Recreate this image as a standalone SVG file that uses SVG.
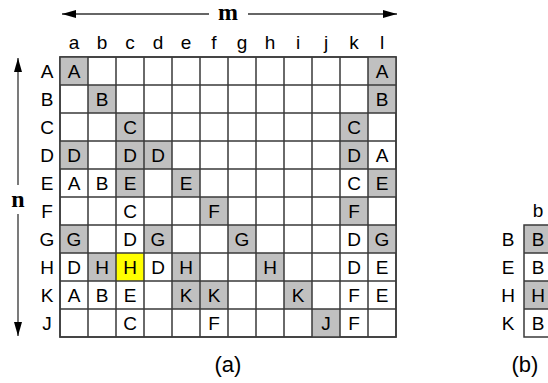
<svg xmlns="http://www.w3.org/2000/svg" width="548" height="383" viewBox="0 0 548 383">
<style>
.t{font-family:"Liberation Sans",Arial,sans-serif;font-size:19px;fill:#000;text-anchor:middle}
.c{stroke:#3a3a3a;stroke-width:1.5;fill:#fff}
.g{fill:#c0c0c0}
.y{fill:#ffff00}
.ax{stroke:#333;stroke-width:1.3;fill:none}
.b{font-family:"Liberation Serif","Times New Roman",serif;font-size:24px;font-weight:bold;text-anchor:middle}
.cap{font-family:"Liberation Sans",Arial,sans-serif;font-size:22px;fill:#000;text-anchor:middle}
</style>
<defs>
<marker id="ah" viewBox="0 0 14 8" refX="14" refY="4" markerWidth="14" markerHeight="8" markerUnits="userSpaceOnUse" orient="auto-start-reverse">
<path d="M0,0 L14,4 L0,8 Z" fill="#000"/>
</marker>
</defs>
<g id="axes">
<line class="ax" x1="62" y1="14" x2="209" y2="14" marker-start="url(#ah)"/>
<line class="ax" x1="248" y1="14" x2="397" y2="14" marker-end="url(#ah)"/>
<text class="b" x="228" y="20">m</text>
<line class="ax" x1="18" y1="58" x2="18" y2="185" marker-start="url(#ah)"/>
<line class="ax" x1="18" y1="214" x2="18" y2="336" marker-end="url(#ah)"/>
<text class="b" x="18" y="207">n</text>
</g>
<g id="grid-a">
<g class="c">
<rect x="60" y="57" width="336" height="280"/>
</g>
<g id="fills">
<rect class="g" x="60" y="57" width="28" height="28"/>
<rect class="g" x="368" y="57" width="28" height="28"/>
<rect class="g" x="88" y="85" width="28" height="28"/>
<rect class="g" x="368" y="85" width="28" height="28"/>
<rect class="g" x="116" y="113" width="28" height="28"/>
<rect class="g" x="340" y="113" width="28" height="28"/>
<rect class="g" x="60" y="141" width="28" height="28"/>
<rect class="g" x="116" y="141" width="28" height="28"/>
<rect class="g" x="144" y="141" width="28" height="28"/>
<rect class="g" x="340" y="141" width="28" height="28"/>
<rect class="g" x="116" y="169" width="28" height="28"/>
<rect class="g" x="172" y="169" width="28" height="28"/>
<rect class="g" x="368" y="169" width="28" height="28"/>
<rect class="g" x="200" y="197" width="28" height="28"/>
<rect class="g" x="340" y="197" width="28" height="28"/>
<rect class="g" x="60" y="225" width="28" height="28"/>
<rect class="g" x="144" y="225" width="28" height="28"/>
<rect class="g" x="228" y="225" width="28" height="28"/>
<rect class="g" x="368" y="225" width="28" height="28"/>
<rect class="g" x="88" y="253" width="28" height="28"/>
<rect class="y" x="116" y="253" width="28" height="28"/>
<rect class="g" x="172" y="253" width="28" height="28"/>
<rect class="g" x="256" y="253" width="28" height="28"/>
<rect class="g" x="172" y="281" width="28" height="28"/>
<rect class="g" x="200" y="281" width="28" height="28"/>
<rect class="g" x="284" y="281" width="28" height="28"/>
<rect class="g" x="312" y="309" width="28" height="28"/>
</g>
<path stroke="#3a3a3a" stroke-width="1.5" fill="none" d="M60,57H396V337H60Z M88,57V337 M116,57V337 M144,57V337 M172,57V337 M200,57V337 M228,57V337 M256,57V337 M284,57V337 M312,57V337 M340,57V337 M368,57V337 M60,85H396 M60,113H396 M60,141H396 M60,169H396 M60,197H396 M60,225H396 M60,253H396 M60,281H396 M60,309H396"/>
<g class="t">
<text x="74" y="49">a</text><text x="102" y="49">b</text><text x="130" y="49">c</text><text x="158" y="49">d</text><text x="186" y="49">e</text><text x="214" y="49">f</text><text x="242" y="49">g</text><text x="270" y="49">h</text><text x="298" y="49">i</text><text x="326" y="49">j</text><text x="354" y="49">k</text><text x="382" y="49">l</text>
<text x="47" y="78">A</text><text x="47" y="106">B</text><text x="47" y="134">C</text><text x="47" y="162">D</text><text x="47" y="190">E</text><text x="47" y="218">F</text><text x="47" y="246">G</text><text x="47" y="274">H</text><text x="47" y="302">K</text><text x="47" y="330">J</text>
<text x="74" y="78">A</text><text x="382" y="78">A</text>
<text x="102" y="106">B</text><text x="382" y="106">B</text>
<text x="130" y="134">C</text><text x="354" y="134">C</text>
<text x="74" y="162">D</text><text x="130" y="162">D</text><text x="158" y="162">D</text><text x="354" y="162">D</text><text x="382" y="162">A</text>
<text x="74" y="190">A</text><text x="102" y="190">B</text><text x="130" y="190">E</text><text x="186" y="190">E</text><text x="354" y="190">C</text><text x="382" y="190">E</text>
<text x="130" y="218">C</text><text x="214" y="218">F</text><text x="354" y="218">F</text>
<text x="74" y="246">G</text><text x="130" y="246">D</text><text x="158" y="246">G</text><text x="242" y="246">G</text><text x="354" y="246">D</text><text x="382" y="246">G</text>
<text x="74" y="274">D</text><text x="102" y="274">H</text><text x="130" y="274">H</text><text x="158" y="274">D</text><text x="186" y="274">H</text><text x="270" y="274">H</text><text x="354" y="274">D</text><text x="382" y="274">E</text>
<text x="74" y="302">A</text><text x="102" y="302">B</text><text x="130" y="302">E</text><text x="186" y="302">K</text><text x="214" y="302">K</text><text x="298" y="302">K</text><text x="354" y="302">F</text><text x="382" y="302">E</text>
<text x="130" y="330">C</text><text x="214" y="330">F</text><text x="326" y="330">J</text><text x="354" y="330">F</text>
</g>
<text class="cap" x="228" y="372">(a)</text>
</g>
<g id="grid-b">
<rect class="g" x="524" y="225" width="28" height="28"/>
<rect fill="#fff" x="524" y="253" width="28" height="28"/>
<rect class="g" x="524" y="281" width="28" height="28"/>
<rect fill="#fff" x="524" y="309" width="28" height="28"/>
<path stroke="#3a3a3a" stroke-width="1.5" fill="none" d="M552,225H524V337H552 M524,253H552 M524,281H552 M524,309H552"/>
<g class="t">
<text x="538" y="217">b</text>
<text x="508" y="246">B</text><text x="508" y="274">E</text><text x="508" y="302">H</text><text x="508" y="330">K</text>
<text x="538" y="246">B</text><text x="538" y="274">B</text><text x="538" y="302">H</text><text x="538" y="330">B</text>
</g>
<text class="cap" x="525" y="372">(b)</text>
</g>
</svg>
